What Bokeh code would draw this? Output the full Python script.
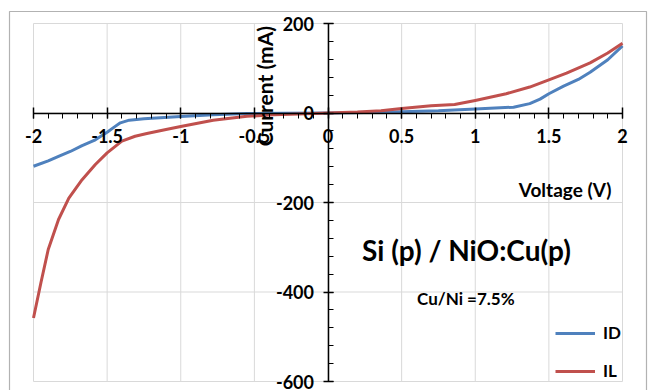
import math
from bokeh.plotting import figure
from bokeh.models import (Range1d, LinearAxis, SingleIntervalTicker, Label, Legend,
                          LegendItem, BoxAnnotation, CustomJSTickFormatter)
from bokeh.embed import file_html
from bokeh.resources import INLINE

# ---- data ----
voltage_id = [-2.0, -1.9, -1.83, -1.75, -1.67, -1.58, -1.5, -1.45, -1.41, -1.35, -1.25,
              -1.0, -0.78, -0.55, -0.3, 0.0, 0.25, 0.5, 0.75, 1.0, 1.26, 1.37, 1.44, 1.5,
              1.6, 1.7, 1.78, 1.9, 2.0]
current_id = [-119, -107, -97, -86, -73, -60, -43, -31, -22, -16, -13,
              -8, -4, -1, -0.5, 0, 1, 3, 5, 9, 13, 21, 31, 43,
              60, 75, 91, 119, 150]

voltage_il = [-2.0, -1.95, -1.9, -1.83, -1.76, -1.67, -1.58, -1.5, -1.4, -1.31, -1.23,
              -1.1, -1.0, -0.78, -0.55, -0.37, -0.2, 0.0, 0.2, 0.36, 0.5, 0.7, 0.86, 1.0,
              1.21, 1.37, 1.5, 1.62, 1.78, 1.9, 2.0]
current_il = [-458, -380, -305, -238, -190, -149, -115, -89, -63, -52, -46,
              -37, -30, -16, -7.5, -4, -2, 0, 2, 5, 10, 16, 19, 28,
              43, 58, 74, 89, 112, 134, 156]

x_ticks = [-2.0, -1.5, -1.0, -0.5, 0.0, 0.5, 1.0, 1.5, 2.0]
y_ticks = [-600, -400, -200, 0, 200]

series_names = ["ID", "IL"]
series_colors = ["#4F81BD", "#C0504D"]
x_title = "Voltage (V)"
y_title = "Current (mA)"
chart_title = "Si (p) / NiO:Cu(p)"
note_text = "Cu/Ni  =7.5%"

FONT = "Lato"
GRID = "#D9D9D9"

# layout: plot area in pixels inside a 657x390 canvas
W, H = 657, 390
left_px, right_px, top_px, bottom_px = 33, 622, 23, 381
xmin, xmax = x_ticks[0], x_ticks[-1]
ymin, ymax = y_ticks[0], y_ticks[-1]
sx = (right_px - left_px) / (xmax - xmin)
sy = (bottom_px - top_px) / (ymax - ymin)
x_range = Range1d(xmin - left_px / sx, xmax + (W - right_px) / sx)
y_range = Range1d(ymin - (H - bottom_px) / sy, ymax + top_px / sy)

p = figure(width=W, height=H, output_backend="svg", toolbar_location=None,
           x_range=x_range, y_range=y_range,
           x_axis_location=None, y_axis_location=None,
           min_border=0, min_border_left=0, min_border_right=0,
           min_border_top=0, min_border_bottom=0)
p.outline_line_color = None
p.background_fill_color = "white"
p.border_fill_color = "white"
p.xgrid.visible = False
p.ygrid.visible = False

# grid lines bounded to the plot area
p.segment(x0=x_ticks, y0=[ymin] * len(x_ticks), x1=x_ticks, y1=[ymax] * len(x_ticks),
          line_color=GRID, line_width=1)
p.segment(x0=[xmin] * len(y_ticks), y0=y_ticks, x1=[xmax] * len(y_ticks), y1=y_ticks,
          line_color=GRID, line_width=1)

xticker = SingleIntervalTicker(interval=0.5, num_minor_ticks=5)
yticker = SingleIntervalTicker(interval=200, num_minor_ticks=5)
fmt = CustomJSTickFormatter(code="return String(Math.round(tick*10)/10);")

xaxis = LinearAxis(fixed_location=0, ticker=xticker, formatter=fmt, bounds=(xmin, xmax),
                   axis_line_color="black", axis_line_width=1.5,
                   major_tick_line_color="black", major_tick_line_width=1.5,
                   major_tick_in=6, major_tick_out=5,
                   minor_tick_line_color="black", minor_tick_line_width=1,
                   minor_tick_in=0, minor_tick_out=5,
                   major_label_standoff=11,
                   major_label_text_font=FONT, major_label_text_font_style="bold",
                   major_label_text_font_size="18px", major_label_text_color="black")
p.add_layout(xaxis, "below")

yaxis = LinearAxis(fixed_location=0, ticker=yticker, formatter=fmt, bounds=(ymin, ymax),
                   axis_line_color="black", axis_line_width=1.5,
                   major_tick_line_color="black", major_tick_line_width=1.5,
                   major_tick_in=5, major_tick_out=5,
                   minor_tick_line_color="black", minor_tick_line_width=1,
                   minor_tick_in=5, minor_tick_out=0,
                   major_label_standoff=9,
                   major_label_text_font=FONT, major_label_text_font_style="bold",
                   major_label_text_font_size="18px", major_label_text_color="black")
p.add_layout(yaxis, "left")

r_id = p.line(voltage_id, current_id, line_color=series_colors[0], line_width=3,
              line_join="round")
r_il = p.line(voltage_il, current_il, line_color=series_colors[1], line_width=3,
              line_join="round")

legend = Legend(items=[LegendItem(label=series_names[0], renderers=[r_id]),
                       LegendItem(label=series_names[1], renderers=[r_il])],
                location=(555, 9), orientation="vertical",
                glyph_width=40, glyph_height=20, label_height=20, label_standoff=8,
                spacing=17, padding=0, margin=0,
                label_text_font=FONT, label_text_font_style="bold",
                label_text_font_size="17px", label_text_color="black",
                border_line_color=None, background_fill_alpha=0)
p.add_layout(legend)

p.add_layout(Label(x=-0.43, y=60, text=y_title, angle=math.pi / 2,
                   text_align="center", text_baseline="middle",
                   text_font=FONT, text_font_style="bold", text_font_size="21px",
                   text_color="black"))
p.add_layout(Label(x=1.61, y=-171, text=x_title,
                   text_align="center", text_baseline="middle",
                   text_font=FONT, text_font_style="bold", text_font_size="19px",
                   text_color="black"))
p.add_layout(Label(x=0.94, y=-306, text=chart_title,
                   text_align="center", text_baseline="middle",
                   text_font=FONT, text_font_style="bold", text_font_size="28px",
                   text_color="black"))
p.add_layout(Label(x=0.95, y=-415, text=note_text,
                   text_align="center", text_baseline="middle",
                   text_font=FONT, text_font_style="bold", text_font_size="17px",
                   text_color="black"))

# outer chart border
p.add_layout(BoxAnnotation(left=9, right=646, top=11, bottom=400,
                           left_units="canvas", right_units="canvas",
                           top_units="canvas", bottom_units="canvas",
                           fill_alpha=0, line_color="black", line_width=1.2,
                           level="overlay"))

open("out.html", "w").write(file_html(p, INLINE))
